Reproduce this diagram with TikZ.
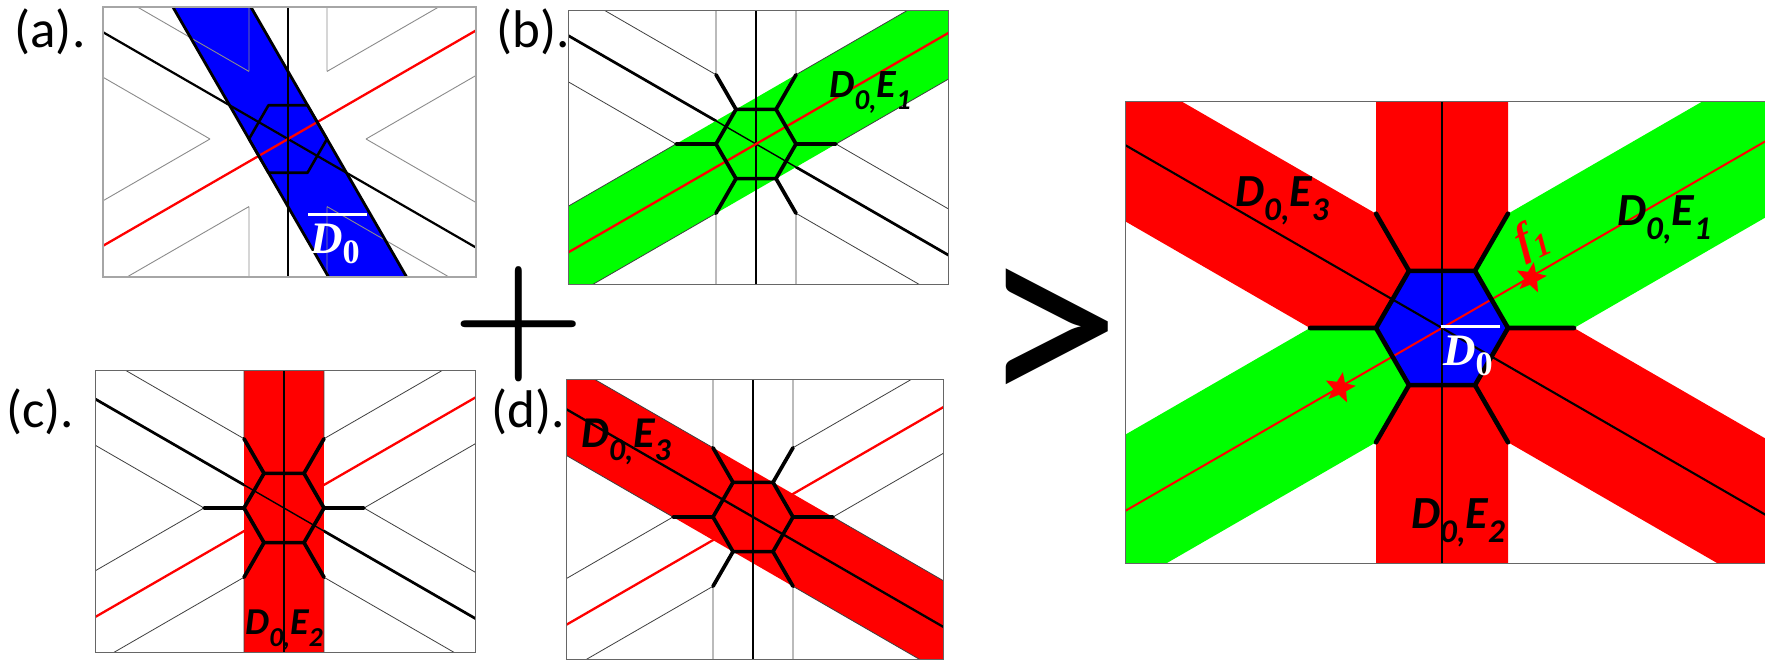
\documentclass[tikz,border=0pt]{standalone}
\usepackage{fontspec}
\usepackage{graphicx}
\setmainfont{Carlito}
\newfontfamily\mathlike{Liberation Serif}
\usetikzlibrary{shapes.geometric}
\definecolor{pgreen}{RGB}{0,255,0}
\definecolor{pblue}{RGB}{0,0,255}
\definecolor{pred}{RGB}{255,0,0}
\tikzset{
  x=1pt,y=-1pt,
  thinray/.style={draw=black!75,line width=.8pt},
  greyray/.style={draw=black!45,line width=.9pt},
  framebox/.style={draw=black!60,line width=1pt},
  framegrey/.style={draw=black!35,line width=1.4pt},
  thickblack/.style={draw=black,line width=3.7pt,line cap=round,line join=round},
  diagthick/.style={draw=black,line width=2.7pt},
  diagthin/.style={draw=black,line width=1.4pt},
  redline/.style={draw=pred,line width=2.3pt},
  panellabel/.style={font=\fontsize{53}{53}\selectfont,inner sep=0pt,anchor=center},
  bandlabel/.style={font=\fontsize{#1}{#1}\selectfont\bfseries\itshape,inner sep=0pt,anchor=center},
  barlabel/.style={text=white,inner sep=0pt,anchor=base west},
  hotstar/.style={star,star points=5,star point ratio=2.3,fill=pred,inner sep=0pt,minimum size=32pt,rotate=-10},
}
\newcommand{\dlabel}[1]{D\raisebox{-.3em}{\scalebox{.72}{0,}}E\raisebox{-.3em}{\scalebox{.72}{#1}}}
\newcommand{\dbar}{{\fontsize{45}{45}\selectfont\mathlike\bfseries\itshape\rlap{\raisebox{37pt}{\rule{59pt}{2.6pt}}}\hspace*{2pt}D\raisebox{-10.5pt}{\scalebox{.76}{\upshape 0}}}}
\newcommand{\hexpath}[1]{(-#1,0) -- ({-.5*#1},{-.866*#1}) -- ({.5*#1},{-.866*#1}) -- (#1,0) -- ({.5*#1},{.866*#1}) -- ({-.5*#1},{.866*#1}) -- cycle}
\newcommand{\rays}[2]{%
  \draw[#2] ({-2*#1},0) -- ++(-500,-288.7) ({-2*#1},0) -- ++(-500,288.7)
            ({2*#1},0) -- ++(500,-288.7) ({2*#1},0) -- ++(500,288.7)
            (-#1,{-1.732*#1}) -- ++(0,-500) (-#1,{-1.732*#1}) -- ++(-500,-288.7)
            (#1,{-1.732*#1}) -- ++(0,-500) (#1,{-1.732*#1}) -- ++(500,-288.7)
            (-#1,{1.732*#1}) -- ++(0,500) (-#1,{1.732*#1}) -- ++(-500,288.7)
            (#1,{1.732*#1}) -- ++(0,500) (#1,{1.732*#1}) -- ++(500,288.7);}
\newcommand{\spokes}[1]{%
  \draw[thickblack] \hexpath{#1};
  \draw[thickblack] (-#1,0) -- ({-2*#1},0) (#1,0) -- ({2*#1},0)
     ({-.5*#1},{-.866*#1}) -- (-#1,{-1.732*#1}) ({.5*#1},{-.866*#1}) -- (#1,{-1.732*#1})
     ({-.5*#1},{.866*#1}) -- (-#1,{1.732*#1}) ({.5*#1},{.866*#1}) -- (#1,{1.732*#1});}
\newcommand{\bandup}[2]{\fill[#2] ({-2*#1-500},288.7) -- ({-2*#1+500},-288.7) -- ({2*#1+500},-288.7) -- ({2*#1-500},288.7) -- cycle;}
\newcommand{\banddown}[2]{\fill[#2] ({-2*#1-500},-288.7) -- ({-2*#1+500},288.7) -- ({2*#1+500},288.7) -- ({2*#1-500},-288.7) -- cycle;}
\begin{document}
\begin{tikzpicture}
\useasboundingbox (0,0) rectangle (1765,659);
\fill[white] (0,0) rectangle (1765,659);

% panel a
\begin{scope}[shift={(288,139)}]
  \begin{scope}
    \clip (-185,-132) rectangle (188,138);
    \fill[pblue] (-212,-300) -- (134,300) -- (212,300) -- (-134,-300) -- cycle;
    \rays{39}{greyray}
    \draw[draw=black,line width=2.2pt] (-500,-288.7) -- (500,288.7);
    \draw[redline] (-500,288.7) -- (500,-288.7);
    \draw[draw=black,line width=1.8pt] (0,-300) -- (0,300);
    \draw[draw=black,line width=2.8pt] (-212,-300) -- (134,300) (212,300) -- (-134,-300);
    \draw[thickblack,line width=2.6pt] \hexpath{39};
  \end{scope}
  \draw[framegrey] (-185,-132) rectangle (188,138);
\end{scope}

% panel b
\begin{scope}[shift={(756,144)}]
  \begin{scope}
    \clip (-188,-134) rectangle (192,140);
    \draw[diagthick] (-500,-288.7) -- (500,288.7);
    \draw[diagthick] (0,-300) -- (0,300);
    \bandup{40}{pgreen}
    \rays{40}{thinray}
    \draw[diagthin] (-500,-288.7) -- (500,288.7);
    \draw[diagthin] (0,-300) -- (0,300);
    \draw[redline] (-500,288.7) -- (500,-288.7);
    \spokes{40}
  \end{scope}
  \draw[framebox] (-188,-134) rectangle (192,140);
\end{scope}

% panel c
\begin{scope}[shift={(284,508)}]
  \begin{scope}
    \clip (-189,-138) rectangle (191,144);
    \draw[diagthick] (-500,-288.7) -- (500,288.7);
    \draw[redline] (-500,288.7) -- (500,-288.7);
    \fill[pred] (-40,-300) rectangle (40,300);
    \rays{40}{thinray}
    \draw[diagthin] (-500,-288.7) -- (500,288.7);
    \draw[diagthin] (0,-300) -- (0,300);
    \spokes{40}
  \end{scope}
  \draw[framebox] (-189,-138) rectangle (191,144);
\end{scope}

% panel d
\begin{scope}[shift={(753,517)}]
  \begin{scope}
    \clip (-187,-138) rectangle (190,142);
    \draw[diagthick] (0,-300) -- (0,300);
    \draw[redline] (-500,288.7) -- (500,-288.7);
    \banddown{40}{pred}
    \rays{40}{thinray}
    \draw[diagthick,line width=2.3pt] (-500,-288.7) -- (500,288.7);
    \draw[diagthin] (0,-300) -- (0,300);
    \spokes{40}
  \end{scope}
  \draw[framebox] (-187,-138) rectangle (190,142);
\end{scope}

% main panel
\begin{scope}[shift={(1442,328)}]
  \begin{scope}
    \clip (-317,-227) rectangle (323,235);
    \fill[pgreen] (33,-57.2) -- (66,-114.3) -- (566,-403) -- (632,-288.7) -- (132,0) -- (66,0) -- cycle;
    \fill[pgreen] (-33,57.2) -- (-66,114.3) -- (-566,403) -- (-632,288.7) -- (-132,0) -- (-66,0) -- cycle;
    \fill[pred] (-33,-57.2) -- (-66,-114.3) -- (-566,-403) -- (-632,-288.7) -- (-132,0) -- (-66,0) -- cycle;
    \fill[pred] (33,57.2) -- (66,114.3) -- (566,403) -- (632,288.7) -- (132,0) -- (66,0) -- cycle;
    \fill[pred] (-33,-57.2) -- (-66,-114.3) -- (-66,-500) -- (66,-500) -- (66,-114.3) -- (33,-57.2) -- cycle;
    \fill[pred] (-33,57.2) -- (-66,114.3) -- (-66,500) -- (66,500) -- (66,114.3) -- (33,57.2) -- cycle;
    \fill[pblue] \hexpath{66};
    \draw[diagthin,line width=2.1pt] (-500,-288.7) -- (500,288.7);
    \draw[redline,line width=2pt] (-500,288.7) -- (500,-288.7);
    \draw[diagthin,line width=2.1pt] (0,-300) -- (0,300);
    \begin{scope}[thickblack/.append style={line width=4.6pt}]
      \spokes{66}
    \end{scope}
  \end{scope}
  \draw[framebox] (-317,-227) rectangle (323,235);
\end{scope}

\node[hotstar] (starA) at (1531,278) {};
\node[hotstar] (starB) at (1340,388) {};

% labels
\node[panellabel] (la) at (50,32) {(a).};
\node[panellabel] (lb) at (533,32) {(b).};
\node[panellabel] (lc) at (40,412) {(c).};
\node[panellabel] (ld) at (528,412) {(d).};
\node[bandlabel=40] (e1b) at (870,92) {\dlabel{1}};
\node[bandlabel=38] (e2c) at (284,630) {\dlabel{2}};
\node[bandlabel=44] (e3d) at (626,442) {\dlabel{3}};
\node[bandlabel=46] (e3m) at (1282,201) {\dlabel{3}};
\node[bandlabel=46] (e1m) at (1664,220) {\dlabel{1}};
\node[bandlabel=46] (e2m) at (1458,523) {\dlabel{2}};
\node[barlabel] (d0a) at (308,253) {\dbar};
\node[barlabel] (d0m) at (1441,365) {\dbar};
\node[inner sep=0pt,text=pred,rotate=25,font=\fontsize{45}{45}\selectfont\mathlike\bfseries\itshape] (f1) at (1532,240) {f\raisebox{-.2em}{\scalebox{.72}{1}}};
\node[inner sep=0pt] (plus) at (519,324) {\scalebox{17.3}{$\mathbf{+}$}};
\node[inner sep=0pt,font=\fontsize{280}{280}\selectfont] (gt) at (1051,342) {>};
\end{tikzpicture}
\end{document}
